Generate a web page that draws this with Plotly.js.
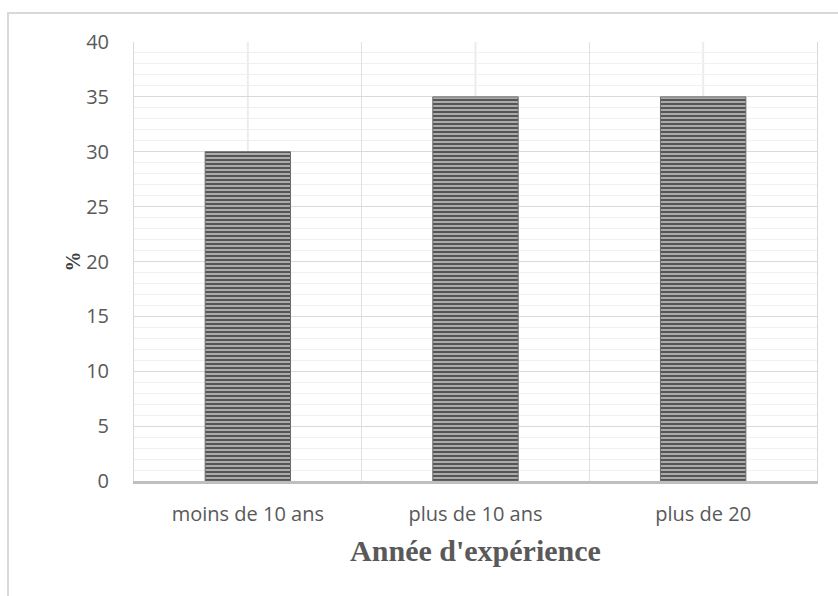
<!DOCTYPE html>
<html>
<head>
<meta charset="utf-8">
<script src="https://cdn.plot.ly/plotly-3.0.1.min.js"></script>
<style>
  html, body { margin: 0; padding: 0; background: #ffffff; }
  #wrap { position: relative; width: 838px; height: 596px; overflow: hidden; }
  #chart { position: absolute; left: 0; top: 0; width: 838px; height: 596px; }
  #frame { position: absolute; left: 7px; top: 12px; width: 900px; height: 700px;
           border-left: 2px solid #d9d9d9; border-top: 2px solid #d9d9d9; pointer-events: none; }
</style>
</head>
<body>
<div id="wrap">
  <div id="chart"></div>
  <div id="frame"></div>
</div>
<script>
const categories = ["moins de 10 ans", "plus de 10 ans", "plus de 20"];
const percentages = [30, 35, 35];
const yTitle = "%";
const xTitle = "Année d'expérience";

const trace = {
  type: "bar",
  x: categories,
  y: percentages,
  width: 0.375,
  marker: {
    color: "#9a9a9a",
    line: { color: "#6a6a6a", width: 1 },
    pattern: { shape: "-", fgcolor: "#555555", bgcolor: "#b5b5b5", size: 4, solidity: 0.55 }
  },
  hoverinfo: "skip"
};

const centerLines = categories.map(c => ({
  type: "line", xref: "x", yref: "paper", x0: c, x1: c, y0: 0, y1: 1,
  line: { color: "#ececec", width: 2 }, layer: "below"
}));

const layout = {
  width: 838, height: 596,
  margin: { l: 134, r: 21, t: 42, b: 115 },
  paper_bgcolor: "#ffffff", plot_bgcolor: "#ffffff",
  showlegend: false,
  font: { family: "Open Sans, sans-serif", color: "#595959", size: 20 },
  xaxis: {
    type: "category",
    tickson: "boundaries",
    showgrid: true, gridcolor: "#e0e0e0", gridwidth: 1,
    showline: true, linecolor: "#bfbfbf", linewidth: 3,
    ticks: "", ticklabelstandoff: 13,
    tickfont: { family: "Open Sans, sans-serif", size: 20, color: "#595959" },
    title: { text: xTitle, font: { family: "Liberation Serif, Times New Roman, serif", size: 30, color: "#595959", weight: "bold" }, standoff: 14 },
    automargin: false, fixedrange: true
  },
  yaxis: {
    range: [0, 40], dtick: 5, tick0: 0,
    showgrid: true, gridcolor: "#d9d9d9", gridwidth: 1,
    minor: { dtick: 1, showgrid: true, gridcolor: "#f0f0f0", gridwidth: 1 },
    showline: true, mirror: true, linecolor: "#d9d9d9", linewidth: 1,
    zeroline: false,
    ticks: "outside", ticklen: 20, tickcolor: "rgba(0,0,0,0)",
    tickfont: { family: "Open Sans, sans-serif", size: 20, color: "#595959" },
    title: { text: yTitle, font: { family: "Liberation Serif, Times New Roman, serif", size: 20, color: "#404040", weight: "bold" } },
    automargin: false, fixedrange: true
  },
  shapes: centerLines
};

Plotly.newPlot("chart", [trace], layout, { staticPlot: true, displayModeBar: false });
</script>
</body>
</html>
